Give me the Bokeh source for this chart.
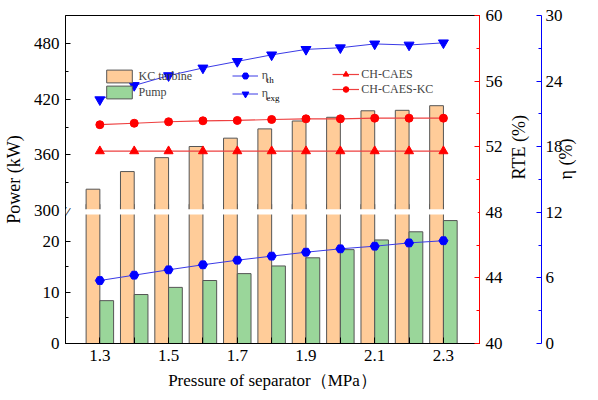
import math
from bokeh.plotting import figure
from bokeh.models import (Range1d, LinearAxis, FixedTicker, CustomJSTickFormatter,
                          Legend, LegendItem, BoxAnnotation, Label, ColumnDataSource)
from bokeh.transform import dodge
from bokeh.embed import file_html
from bokeh.resources import INLINE

# ---------------- data ----------------
pressure = [1.3, 1.4, 1.5, 1.6, 1.7, 1.8, 1.9, 2.0, 2.1, 2.2, 2.3]
kc_turbine = [323, 342, 357, 369, 378, 388, 396.5, 400.5, 407.5, 408, 413]
pump = [8.4, 9.6, 11.0, 12.35, 13.7, 15.2, 16.8, 18.4, 20.3, 21.9, 24.1]
eta_th = [5.76, 6.25, 6.74, 7.2, 7.62, 7.99, 8.35, 8.66, 8.9, 9.2, 9.4]
eta_exg = [22.3, 23.6, 24.5, 25.2, 25.8, 26.4, 26.9, 27.05, 27.4, 27.3, 27.5]
rte_ch_caes = [51.73, 51.73, 51.73, 51.73, 51.73, 51.73, 51.73, 51.73, 51.73, 51.73, 51.73]
rte_ch_caes_kc = [53.34, 53.43, 53.52, 53.58, 53.6, 53.66, 53.7, 53.7, 53.74, 53.74, 53.74]

x_ticks = [1.3, 1.5, 1.7, 1.9, 2.1, 2.3]
x_minor = [1.4, 1.6, 1.8, 2.0, 2.2]
power_ticks_low = [0, 10, 20]
power_minor_low = [5, 15]
power_ticks_high = [300, 360, 420, 480]
power_minor_high = [330, 390, 450]
rte_ticks = [40, 44, 48, 52, 56, 60]
rte_minor = [42, 46, 50, 54, 58]
eta_ticks = [0, 6, 12, 18, 24, 30]
eta_minor = [3, 9, 15, 21, 27]

# ---------------- styles ----------------
FONT = "'Liberation Serif', 'Times New Roman', serif"
KC_FILL = "#FFCC99"
PUMP_FILL = "#9AD69A"
EDGE = "#555555"
RED = "#FF0000"
RED_LINE = "#EE4040"
BLUE = "#0000FF"
BLUE_LINE = "#3A3AE6"

LOW_TOP = 64.3                    # lower (0..25) segment scale, full frame height
HIGH_LO, HIGH_HI = 156.7, 510.2   # upper (300..) segment scale, full frame height
LOW_CUT = 25.3
GAP_TOP = 26.3


def to_low(v):
    return (v - HIGH_LO) / (HIGH_HI - HIGH_LO) * LOW_TOP


src = ColumnDataSource(dict(x=pressure, kc=kc_turbine, pump=pump, eth=eta_th,
                            eex=eta_exg, r1=rte_ch_caes, r2=rte_ch_caes_kc))

p = figure(width=598, height=400, output_backend="svg", toolbar_location=None,
           x_range=Range1d(1.2, 2.405), y_range=Range1d(0, LOW_TOP),
           min_border_left=62, min_border_right=119, min_border_top=15,
           min_border_bottom=57)
p.extra_y_ranges = {"high": Range1d(HIGH_LO, HIGH_HI),
                    "rte": Range1d(40, 60),
                    "eta": Range1d(0, 30)}
p.grid.visible = False
p.outline_line_color = "black"
p.outline_line_width = 1
p.background_fill_color = "white"
p.border_fill_color = "white"

# ---------------- bars ----------------
kc_lo = p.vbar(x=dodge("x", -0.02, range=p.x_range), top=LOW_CUT + 2, bottom=0, width=0.04,
               source=src, fill_color=KC_FILL, line_color=EDGE, line_width=1)
kc_hi = p.vbar(x=dodge("x", -0.02, range=p.x_range), top="kc", bottom=298, width=0.04,
               source=src, fill_color=KC_FILL, line_color=EDGE, line_width=1,
               y_range_name="high")
pump_r = p.vbar(x=dodge("x", 0.02, range=p.x_range), top="pump", bottom=0, width=0.04,
                source=src, fill_color=PUMP_FILL, line_color=EDGE, line_width=1)

# break gap
p.add_layout(BoxAnnotation(bottom=LOW_CUT, top=GAP_TOP, right=2.4, fill_color="white",
                           fill_alpha=1, line_color=None))

# ---------------- lines ----------------
l1 = p.line("x", "r1", source=src, y_range_name="rte", line_color=RED_LINE, line_width=1.2)
m1 = p.scatter("x", "r1", source=src, y_range_name="rte", marker="triangle", size=9,
               fill_color=RED, line_color=RED)
l2 = p.line("x", "r2", source=src, y_range_name="rte", line_color=RED_LINE, line_width=1.2)
m2 = p.scatter("x", "r2", source=src, y_range_name="rte", marker="circle", size=8,
               fill_color=RED, line_color=RED)
l3 = p.line("x", "eth", source=src, y_range_name="eta", line_color=BLUE_LINE, line_width=1)
m3 = p.scatter("x", "eth", source=src, y_range_name="eta", marker="hex", size=9,
               fill_color=BLUE, line_color=BLUE)
l4 = p.line("x", "eex", source=src, y_range_name="eta", line_color=BLUE_LINE, line_width=1)
m4 = p.scatter("x", "eex", source=src, y_range_name="eta", marker="inverted_triangle", size=10,
               fill_color=BLUE, line_color=BLUE)

# ---------------- axes ----------------
xa = p.xaxis[0]
xa.ticker = FixedTicker(ticks=x_ticks, minor_ticks=x_minor)
xa.axis_label = "Pressure of separator（MPa）"

ya = p.yaxis[0]
ya.ticker = FixedTicker(ticks=power_ticks_low + [to_low(v) for v in power_ticks_high],
                        minor_ticks=power_minor_low + [to_low(v) for v in power_minor_high])
ya.formatter = CustomJSTickFormatter(
    args=dict(top=LOW_TOP, h0=HIGH_LO, h1=HIGH_HI, cut=LOW_CUT),
    code="""
    if (tick < cut) { return tick.toFixed(0); }
    return Math.round(h0 + tick / top * (h1 - h0)).toFixed(0);
    """)
ya.axis_label = "Power (kW)"

rte_axis = LinearAxis(y_range_name="rte", ticker=FixedTicker(ticks=rte_ticks, minor_ticks=rte_minor),
                      axis_label="RTE (%)")
spacer = LinearAxis(y_range_name="rte", ticker=FixedTicker(ticks=[60], minor_ticks=[]))
eta_axis = LinearAxis(y_range_name="eta", ticker=FixedTicker(ticks=eta_ticks, minor_ticks=eta_minor),
                      axis_label="η (%)")
p.add_layout(rte_axis, "right")
p.add_layout(spacer, "right")
p.add_layout(eta_axis, "right")

for ax in [xa, ya, rte_axis, eta_axis]:
    ax.major_label_text_font = FONT
    ax.major_label_text_font_size = "17px"
    ax.major_label_text_color = "black"
    ax.axis_label_text_font = FONT
    ax.axis_label_text_font_size = "18px"
    ax.axis_label_text_font_style = "normal"
    ax.axis_label_text_color = "black"
    ax.major_tick_in = 5
    ax.major_tick_out = 0
    ax.minor_tick_in = 3
    ax.minor_tick_out = 0
    ax.major_label_standoff = 6
    ax.axis_label_standoff = 7
    ax.axis_line_width = 1

xa.axis_label_text_font_size = "17px"
xa.major_tick_in = 6
xa.minor_tick_in = 6

rte_axis.axis_line_color = RED
rte_axis.major_tick_line_color = RED
rte_axis.minor_tick_line_color = RED
rte_axis.axis_label_orientation = math.pi / 2
rte_axis.axis_label_standoff = 13
eta_axis.axis_line_color = BLUE
eta_axis.major_tick_line_color = BLUE
eta_axis.minor_tick_line_color = BLUE
eta_axis.axis_label_orientation = math.pi / 2
eta_axis.major_label_standoff = 4
eta_axis.axis_label_standoff = 0

# invisible spacer panel between the two right-hand axes
spacer.axis_line_color = None
spacer.major_tick_line_color = None
spacer.minor_tick_line_color = None
spacer.major_label_text_color = None
spacer.major_label_text_font_size = "1px"
spacer.major_tick_in = 0
spacer.major_tick_out = 0
spacer.minor_tick_in = 0
spacer.minor_tick_out = 0
spacer.major_label_standoff = 0

# break mark on the left axis
p.add_layout(Label(x=1.2, y=25.8, text="//", text_font=FONT, text_font_size="15px",
                   text_align="center", text_baseline="middle", angle=-0.25,
                   text_color="black"))

# ---------------- legends ----------------
def make_legend(items, loc, gw, gh, spacing, standoff):
    leg = Legend(items=items, location=loc, glyph_width=gw, glyph_height=gh,
                 spacing=spacing, label_standoff=standoff, padding=0, margin=0,
                 label_height=gh, label_text_font=FONT, label_text_font_size="12px",
                 border_line_color=None, background_fill_alpha=0)
    return leg

leg1 = make_legend([LegendItem(label="KC turbine", renderers=[kc_hi]),
                    LegendItem(label="Pump", renderers=[pump_r])],
                   (37.5, 243), 32, 16, -1, 4)
leg2 = make_legend([LegendItem(label="η", renderers=[l3, m3]),
                    LegendItem(label="η", renderers=[l4, m4])],
                   (166.7, 240.7), 26, 17, 1, 4)
leg3 = make_legend([LegendItem(label="CH-CAES", renderers=[l1, m1]),
                    LegendItem(label="CH-CAES-KC", renderers=[l2, m2])],
                   (267.3, 246.3), 27, 14, 0, 2)
for leg in (leg1, leg2, leg3):
    p.add_layout(leg, "center")

# subscripts for the eta legend labels
p.add_layout(Label(x=1.7854, y=51.6, text="th", text_font=FONT, text_font_size="9px",
                   text_baseline="middle", text_color="black"))
p.add_layout(Label(x=1.7854, y=48.1, text="exg", text_font=FONT, text_font_size="9px",
                   text_baseline="middle", text_color="black"))

open("out.html", "w").write(file_html(p, INLINE))
